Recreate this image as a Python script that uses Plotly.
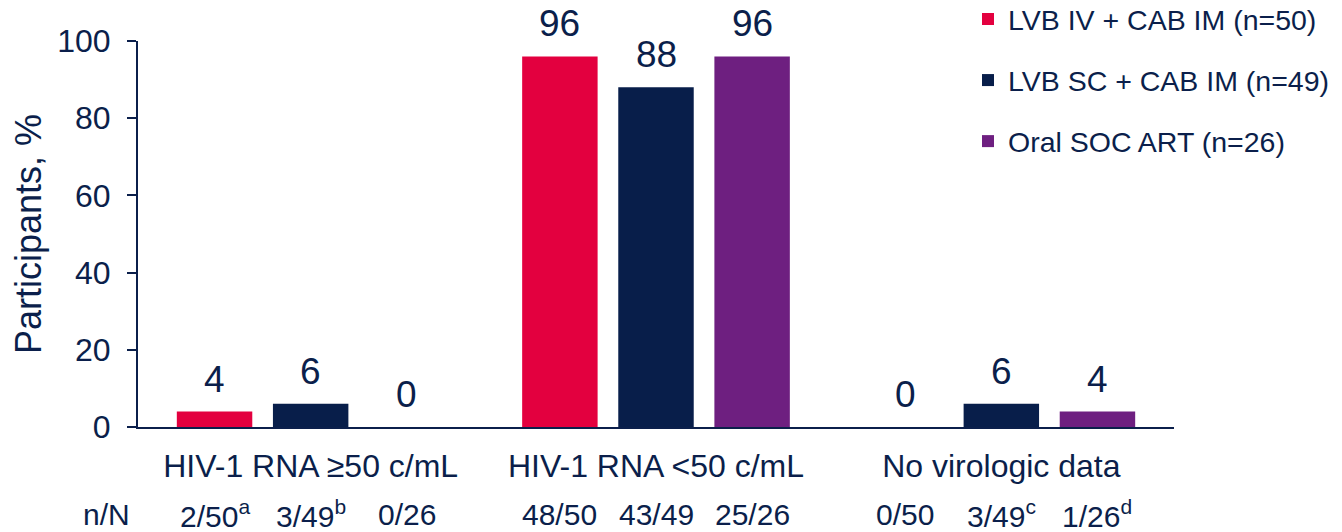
import plotly.graph_objects as go

# Virologic outcome categories and treatment arms
categories = ["HIV-1 RNA ≥50 c/mL", "HIV-1 RNA <50 c/mL", "No virologic data"]
arms = ["LVB IV + CAB IM (n=50)", "LVB SC + CAB IM (n=49)", "Oral SOC ART (n=26)"]
arm_colors = ["#E3003F", "#081E4A", "#6E1F80"]

# Percentage of participants per arm, by category
pct_lvb_iv = [4, 96, 0]
pct_lvb_sc = [6, 88, 6]
pct_soc = [0, 96, 4]

# n/N counts shown under each bar (footnote letters as superscripts)
nn_lvb_iv = ["2/50<sup>a</sup>", "48/50", "0/50"]
nn_lvb_sc = ["3/49<sup>b</sup>", "43/49", "3/49<sup>c</sup>"]
nn_soc = ["0/26", "25/26", "1/26<sup>d</sup>"]

y_ticks = [0, 20, 40, 60, 80, 100]

series = [pct_lvb_iv, pct_lvb_sc, pct_soc]
nn_rows = [nn_lvb_iv, nn_lvb_sc, nn_soc]

TEXT = "#0B1F4B"
FONT = "Liberation Sans, Arial, sans-serif"

BARGAP = 0.165
BARGROUPGAP = 0.215
slot = (1 - BARGAP) / len(series)

fig = go.Figure()
for i, (name, vals, col) in enumerate(zip(arms, series, arm_colors)):
    fig.add_trace(go.Bar(
        x=categories, y=vals, name=name,
        marker=dict(color=col, line=dict(width=0)),
        legendgroup=f"g{i}",
    ))

annotations = []
for i, (vals, nns) in enumerate(zip(series, nn_rows)):
    offset = (i - (len(series) - 1) / 2) * slot
    for j, (v, nn) in enumerate(zip(vals, nns)):
        # value label above each bar
        annotations.append(dict(
            x=j + offset, y=v, xref="x", yref="y",
            text=str(v), showarrow=False,
            yanchor="bottom", yshift=10,
            font=dict(size=37, color=TEXT, family=FONT),
        ))
        # n/N row beneath the category labels
        annotations.append(dict(
            x=j + offset, y=-0.226, xref="x", yref="paper",
            text=nn, showarrow=False, yanchor="middle",
            font=dict(size=30, color=TEXT, family=FONT),
        ))

annotations.append(dict(
    x=-0.03, y=-0.226, xref="paper", yref="paper",
    text="n/N", showarrow=False, yanchor="middle", xanchor="center",
    font=dict(size=30, color=TEXT, family=FONT),
))

fig.update_layout(
    width=1342, height=532,
    margin=dict(l=138, r=168, t=41, b=105, autoexpand=False),
    paper_bgcolor="white", plot_bgcolor="white",
    barmode="group", bargap=BARGAP, bargroupgap=BARGROUPGAP,
    font=dict(family=FONT, color=TEXT),
    showlegend=True,
    legend=dict(
        x=0.7213, xref="container", xanchor="left",
        y=1.1218, yref="paper", yanchor="top",
        font=dict(size=28.5, color=TEXT, family=FONT),
        tracegroupgap=21, bgcolor="rgba(0,0,0,0)",
        traceorder="grouped",
    ),
    annotations=annotations,
    xaxis=dict(
        type="category", showgrid=False, zeroline=False,
        showline=True, linecolor=TEXT, linewidth=2,
        ticks="", ticklabelstandoff=10,
        tickfont=dict(size=32, color=TEXT, family=FONT),
    ),
    yaxis=dict(
        range=[0, 100], tickvals=y_ticks,
        showgrid=False, zeroline=False,
        showline=True, linecolor=TEXT, linewidth=2,
        ticks="outside", ticklen=9, tickwidth=2, tickcolor=TEXT,
        ticklabelstandoff=10,
        tickfont=dict(size=32, color=TEXT, family=FONT),
        title=dict(text="Participants, %", standoff=5,
                   font=dict(size=36, color=TEXT, family=FONT)),
    ),
)

fig.write_html("out.html")
